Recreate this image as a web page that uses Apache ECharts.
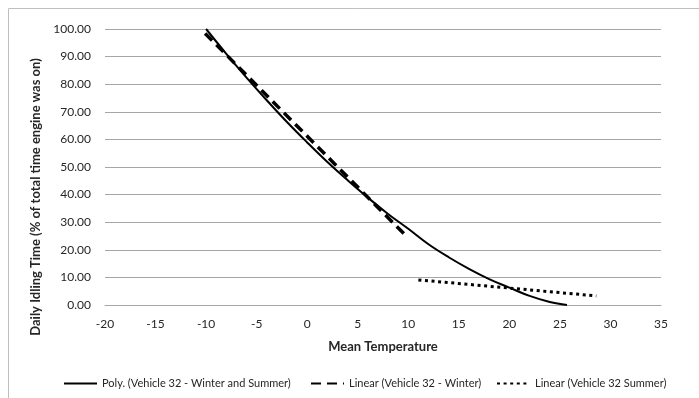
<!DOCTYPE html>
<html lang="en" style="height: 100%">
<head>
  <meta charset="utf-8">
</head>
<body style="height: 100%; margin: 0">
  <div id="container" style="height: 100%"></div>

  <script type="text/javascript" src="https://fastly.jsdelivr.net/npm/echarts@6/dist/echarts.min.js"></script>
  <script type="text/javascript">
    // values
    var polyTemp = [-10, -8, -6, -4, -2, 0, 2, 4, 6, 8, 10, 12, 14, 16, 18, 20, 22, 24, 25.7];
    var polyIdle = [100, 91.0, 82.4, 74.2, 66.3, 58.9, 51.8, 45.2, 38.9, 33.0, 27.6, 22.0, 17.3, 13.1, 9.4, 6.3, 3.3, 1.1, 0];
    var winterTemp = [-10.1, 9.8];
    var winterIdle = [98.4, 25.0];
    var summerTemp = [11.0, 28.6];
    var summerIdle = [9.1, 3.3];

    var names = [
      'Poly. (Vehicle 32 - Winter and Summer)',
      'Linear (Vehicle 32 - Winter)',
      'Linear (Vehicle 32 Summer)'
    ];

    function pairs(xs, ys) {
      var out = [];
      for (var i = 0; i < xs.length; i++) {
        out.push([xs[i], ys[i]]);
      }
      return out;
    }

    var dom = document.getElementById('container');
    var myChart = echarts.init(dom, null, { renderer: 'canvas' });
    var font = 'Lato, "Open Sans", sans-serif';
    var txt = '#262626';

    var legendBase = {
      top: 373,
      itemWidth: 33,
      itemHeight: 10,
      itemStyle: { opacity: 0 },
      textStyle: { fontFamily: font, fontSize: 11, color: txt }
    };

    var option = {
      animation: false,
      graphic: [{
        type: 'rect',
        shape: { x: 8.5, y: 8.5, width: 720, height: 420 },
        style: { fill: 'none', stroke: '#bfbfbf', lineWidth: 1 }
      }],
      legend: [
        Object.assign({ left: 58, data: [names[0]] }, legendBase),
        Object.assign({ left: 305, data: [names[1]] }, legendBase),
        Object.assign({ left: 491, data: [names[2]] }, legendBase)
      ],
      grid: { left: 105, right: 38, top: 29, bottom: 93 },
      xAxis: {
        type: 'value',
        min: -20,
        max: 35,
        interval: 5,
        name: 'Mean Temperature',
        nameLocation: 'middle',
        nameGap: 35,
        nameTextStyle: { fontFamily: font, fontSize: 13, fontWeight: 'bold', color: txt },
        axisLine: { show: true, onZero: false, lineStyle: { color: '#a6a6a6' } },
        axisTick: { show: false },
        splitLine: { show: false },
        axisLabel: { fontFamily: font, fontSize: 12, color: txt, margin: 13 }
      },
      yAxis: {
        type: 'value',
        min: 0,
        max: 100,
        interval: 10,
        name: 'Daily Idling Time (% of total time engine was on)',
        nameLocation: 'middle',
        nameGap: 60,
        nameTextStyle: {
          fontFamily: font, fontSize: 13, fontWeight: 'bold', color: txt,
          padding: [0, 60, 0, 0]
        },
        axisLine: { show: false },
        axisTick: { show: false },
        splitLine: { lineStyle: { color: '#a6a6a6' } },
        axisLabel: {
          fontFamily: font, fontSize: 12, color: txt, margin: 14,
          formatter: function (v) { return v.toFixed(2); }
        }
      },
      series: [
        {
          name: names[0],
          type: 'line',
          smooth: 0.4,
          symbol: 'none',
          lineStyle: { color: '#000', width: 2 },
          itemStyle: { color: '#000' },
          data: pairs(polyTemp, polyIdle)
        },
        {
          name: names[1],
          type: 'line',
          symbol: 'none',
          lineStyle: { color: '#000', width: 3.5, type: [10, 6] },
          itemStyle: { color: '#000' },
          data: pairs(winterTemp, winterIdle)
        },
        {
          name: names[2],
          type: 'line',
          symbol: 'none',
          lineStyle: { color: '#000', width: 3, type: [3, 3.6] },
          itemStyle: { color: '#000' },
          data: pairs(summerTemp, summerIdle)
        }
      ]
    };

    myChart.setOption(option);
    window.addEventListener('resize', myChart.resize);
  </script>
</body>
</html>
